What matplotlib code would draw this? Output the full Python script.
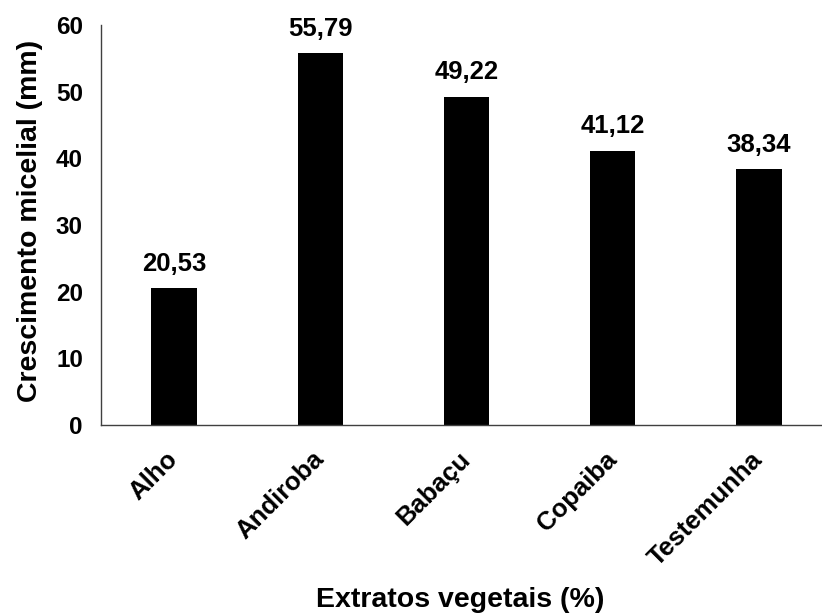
import matplotlib
matplotlib.use("Agg")
import matplotlib.pyplot as plt

extratos = ["Alho", "Andiroba", "Babaçu", "Copaiba", "Testemunha"]
crescimento = [20.53, 55.79, 49.22, 41.12, 38.34]
y_ticks = [0, 10, 20, 30, 40, 50, 60]

plt.rcParams["font.family"] = ["Liberation Sans", "DejaVu Sans"]
plt.rcParams["font.weight"] = "bold"

fig = plt.figure(figsize=(8.22, 6.13), dpi=100)
ax = fig.add_axes([0.1229, 0.3067, 0.8893, 0.6525])

pos = list(range(len(extratos)))
bars = ax.bar(pos, crescimento, width=0.31, color="black")

# value labels above each bar, with a decimal comma
for b, v in zip(bars, crescimento):
    ax.annotate(f"{v:.2f}".replace(".", ","),
                (b.get_x() + b.get_width() / 2, v),
                xytext=(0, 9), textcoords="offset points",
                ha="center", va="bottom", fontsize=18.5, fontweight="bold")

ax.set_xlim(-0.5, len(extratos) - 0.5)
ax.set_ylim(0, 60)
ax.set_yticks(y_ticks)
ax.set_yticklabels([str(t) for t in y_ticks], fontsize=17.5, fontweight="bold")
ax.set_xticks(pos)
ax.set_xticklabels(extratos, rotation=45, ha="right", va="center",
                   rotation_mode="anchor", fontsize=18.5, fontweight="bold")
ax.tick_params(axis="y", length=0, pad=13)
ax.tick_params(axis="x", length=0, pad=22)

for s in ["top", "right"]:
    ax.spines[s].set_visible(False)
for s in ["left", "bottom"]:
    ax.spines[s].set_color("#404040")
    ax.spines[s].set_linewidth(1.0)

ax.set_ylabel("Crescimento micelial (mm)", fontsize=20.5, fontweight="bold")
ax.yaxis.set_label_coords(-0.08, 0.51)
ax.set_xlabel("Extratos vegetais (%)", fontsize=20.5, fontweight="bold")
ax.xaxis.set_label_coords(0.491, -0.405)

fig.savefig("out.png", dpi=100)
